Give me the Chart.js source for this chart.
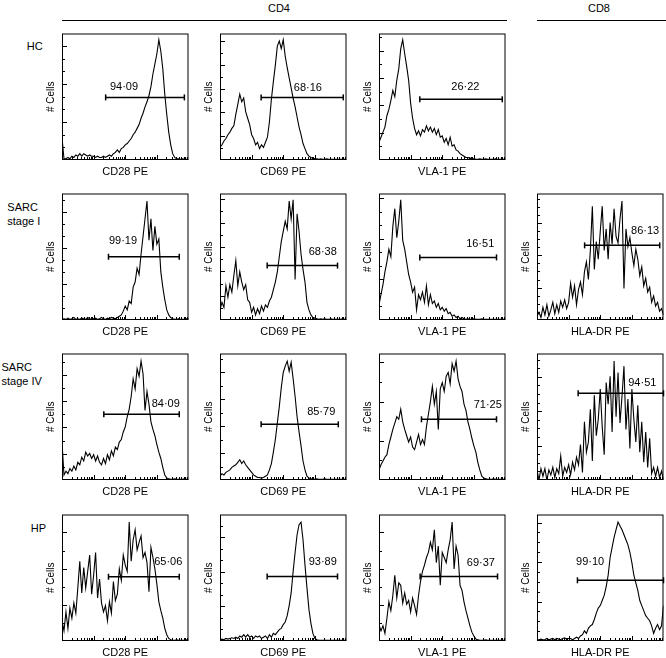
<!DOCTYPE html>
<html><head><meta charset="utf-8">
<script src="https://cdn.jsdelivr.net/npm/chart.js@4.4.1/dist/chart.umd.min.js"></script>
<style>
html,body{margin:0;padding:0;background:#fff;}
#fig{position:relative;width:666px;height:658px;overflow:hidden;background:#fff;font-family:"Liberation Sans",Arial,Helvetica,sans-serif;color:#000;}
.lbl{position:absolute;font-size:11px;line-height:14px;white-space:nowrap;}
.hdr{position:absolute;font-size:11px;line-height:14px;text-align:center;width:60px;}
.rule{position:absolute;height:1px;background:#000;}
canvas{position:absolute;}
</style></head><body>
<div id="fig">
  <div class="hdr" style="left:249px;top:0.6px">CD4</div>
  <div class="rule" style="left:62px;top:20px;width:445px"></div>
  <div class="hdr" style="left:569px;top:0.6px">CD8</div>
  <div class="rule" style="left:537px;top:20px;width:129px"></div>
  <div class="lbl" style="left:26.7px;top:38.9px">HC</div>
  <div class="lbl" style="left:7.3px;top:199.8px">SARC<br>stage I</div>
  <div class="lbl" style="left:1.5px;top:359.8px">SARC<br>stage IV</div>
  <div class="lbl" style="left:30.7px;top:520.6px">HP</div>
</div>
<script>
// ---------- data (histogram heights, % of panel height, 65 channels spanning 10^0..10^4) ----------
const markers = ['CD28 PE', 'CD69 PE', 'VLA-1 PE', 'HLA-DR PE'];
const yAxisTitle = '# Cells';

const hcCD28 = [18,1,1,2,1,3,2,4,3,5, 3,5,4,3,4,3,3,2,3,2, 2,3,2,3,4,3,5,6,8,6, 9,10,12,13,15,17,20,22,25,28, 33,37,42,46,51,58,68,76,84,95, 86,72,52,36,22,12,5,2,1,1, 0.5,1,0.5,0.5,0.5];
const hcCD69 = [10,12,15,17,20,22,25,27,36,44, 52,46,49,38,33,28,20,17,12,14, 9,12,10,14,18,30,48,62,75,90, 94,88,95,82,73,65,57,49,42,34, 26,20,13,9,5,3,2,1.5,1,1, 0.5,1,0.5,0.5,1,0.5,0.5,0.5,0.5,0.5, 0.5,0.5,0.5,0.5,0.5];
const hcVLA1 = [14,18,22,26,35,40,47,55,50,63, 72,88,95,84,74,63,45,33,25,20, 23,19,24,22,27,23,26,22,25,20, 24,18,19,14,17,12,18,11,12,8, 7,5,4,3,2,2,1.5,1,1,0.5, 0.5,1,0.5,0.5,1,0.5,0.5,0.5,0.5,1, 0.5,0.5,0.5,0.5,0.5];

const s1CD28 = [0.5,1,0.5,1.5,0.5,1,2,0.5,1,0.5, 1.5,1,0.5,2,1,0.5,1,1.5,0.5,1, 2,1,0.5,1.5,1,2,1.5,1,2,3, 4,7,11,8,15,13,26,30,41,36, 52,66,80,94,63,80,55,74,60,64, 38,26,16,8,4,2,1,0.5,0.5,1, 0.5,0.5,0.5,1,0.5];
const s1CD69 = [8,14,10,27,18,28,22,35,47,27, 38,30,24,28,16,14,6,10,4,9, 5,11,7,12,10,15,18,24,30,38, 50,62,70,78,72,94,80,95,32,84, 70,52,40,30,14,8,4,2,1.5,1, 0.5,1,0.5,1,0.5,0.5,1,0.5,0.5,0.5, 0.5,0.5,1,0.5,0.5];
const s1VLA1 = [12,20,28,38,46,56,50,74,88,65, 78,95,63,56,46,36,30,22,26,8, 20,16,22,14,27,12,20,13,15,10, 13,8,10,7,9,5,6,3,4,2, 3,1,2,1,0.5,1,0.5,0.5,1,0.5, 0.5,0.5,1,0.5,0.5,0.5,0.5,0.5,0.5,0.5, 0.5,0.5,0.5,0.5,0.5];
const s1HLADR = [3,6,2,10,4,12,3,8,14,5, 12,6,15,10,16,9,14,29,18,27, 12,24,30,20,38,46,32,55,90,40, 62,48,70,90,55,72,48,77,60,88, 66,61,80,94,25,72,58,65,53,43, 56,48,35,42,27,33,22,26,14,19, 11,14,7,9,4];

const s4CD28 = [30,4,7,5,9,7,11,8,14,12, 18,15,22,19,21,17,20,15,19,14, 12,17,13,20,16,23,19,26,24,30, 32,38,42,50,56,66,80,72,88,82, 94,84,55,70,60,46,40,35,28,22, 17,10,4,1.5,1,0.5,0.5,1,0.5,0.5, 0.5,0.5,1,0.5,0.5];
const s4CD69 = [3,5,4,6,7,8,10,11,12,14, 16,13,15,12,10,8,6,4,3,2, 2,1.5,2,3,4,8,13,22,32,45, 58,73,85,90,94,86,93,80,66,50, 38,27,15,8,3,1.5,1,0.5,0.5,1, 0.5,0.5,0.5,1,0.5,0.5,0.5,0.5,0.5,0.5, 0.5,0.5,0.5,0.5,0.5];
const s4VLA1 = [8,12,15,18,20,28,34,40,45,50, 48,56,46,40,35,30,34,26,24,30, 36,28,32,28,42,52,62,74,60,70, 40,72,77,70,82,85,76,92,86,94, 80,74,70,60,55,46,40,33,27,22, 14,8,3,1.5,1,0.5,0.5,0.5,1,0.5, 0.5,0.5,0.5,0.5,0.5];
const s4HLADR = [8,0,9,3,9,0,8,4,10,2, 9,5,19,3,10,6,12,4,14,8, 18,12,28,6,46,22,30,56,15,67, 35,48,72,42,20,77,60,82,38,94, 50,85,45,66,90,40,64,25,72,48, 30,59,22,46,14,38,10,33,5,10, 3,10,2,7,0];

const hpCD28 = [16,8,23,10,26,18,30,22,42,63, 38,58,42,55,68,37,52,70,34,49, 30,23,28,16,31,22,47,32,37,57, 48,68,60,55,94,63,80,88,72,78, 83,66,70,62,39,74,66,57,45,31, 24,18,10,5,2,1,0.5,0.5,1,0.5, 0.5,0.5,0.5,1,0.5];
const hpCD69 = [1,1.5,1,2,1.5,2,2.5,2,3,2, 4,3,5,3,5,3,4,2,4,3, 4,2,3,4,2,5,3,6,5,7, 9,10,13,15,20,28,38,55,70,84, 92,94,80,60,42,25,14,6,2,1, 0.5,0.5,0.5,0.5,0.5,0.5,0.5,0.5,0.5,0.5, 0.5,0.5,0.5,0.5,0.5];
const hpVLA1 = [13,8,12,6,18,31,24,36,52,34, 46,44,30,38,29,32,23,34,28,21, 36,47,55,60,66,70,78,72,88,62, 75,44,70,66,62,72,80,94,57,75, 68,44,40,31,24,18,12,7,4,1.5, 1,0.5,0.5,0.5,1,0.5,0.5,0.5,0.5,0.5, 0.5,0.5,0.5,0.5,0.5];
const hpHLADR = [1,1,1.5,1,1,2,1,1.5,2,1, 2,1.5,1,2,2.5,1.5,2,2,1,2, 3,2,4,5,8,6,10,12,13,17, 22,26,28,32,36,43,52,66,74,82, 88,94,91,88,84,80,76,70,62,52, 46,40,32,28,24,20,18,16,12,6, 10,13,9,12,28];

// gate bounds (fluorescence intensity) and gated percentages, panel order row by row
const gateLow  = [24, 20, 19.5, 29.5, 31, 19.5, 32, 21, 20, 22, 20, 29.5, 31, 20, 19];
const gateHigh = [7400, 7900, 7900, 5100, 5200, 5200, 7600, 5100, 5500, 5200, 10000, 5100, 5200, 5600, 10000];
const gatePercent = [94.09, 68.16, 26.22, 99.19, 68.38, 16.51, 86.13, 84.09, 85.79, 71.25, 94.51, 65.06, 93.89, 69.37, 99.10];

// ---------- layout / style ----------
const panelRow = [0,0,0, 1,1,1,1, 2,2,2,2, 3,3,3,3];
const panelCol = [0,1,2, 0,1,2,3, 0,1,2,3, 0,1,2,3];
const panelSeries = [hcCD28, hcCD69, hcVLA1, s1CD28, s1CD69, s1VLA1, s1HLADR, s4CD28, s4CD69, s4VLA1, s4HLADR, hpCD28, hpCD69, hpVLA1, hpHLADR];
const gateLevel = [49.5, 49.5, 48, 50, 43, 49.5, 59, 52, 44, 48, 68.5, 50.8, 51, 51, 48];
const labelDecade = [1.96, 2.78, 2.73, 1.93, 3.25, 3.2, 3.42, 3.28, 3.2, 3.44, 3.33, 3.36, 3.25, 3.22, 1.68];
const labelLevel = [58.6, 57.8, 58.6, 63, 54.7, 61, 71, 60.7, 54.7, 60, 77.6, 63, 63, 62.5, 63];
const yTickStep = [10, 9.4, 10.8, 9.5, 9.6, 10.7, 6.4, 10.4, 10.65, 15.5, 6.8, 14.3, 9.1, 14.3, 7.8];
const yTickMajorEvery = [3, 2, 2, 3, 2, 3, 4, 2, 2, 2, 4, 2, 3, 2, 4];
const tickMultipliers = [1,2,3,4,5,6,7,8,9];
const decades = [1,10,100,1000];
const colLeft = [62, 220, 379, 537];
const rowTop = [32, 192, 352, 513];
const plotW = 128, plotH = 128;
const padL = 24, padT = 4, padR = 4, padB = 20;
const FONT = '"Liberation Sans", Arial, Helvetica, sans-serif';

const frameTicks = {
  id: 'frameTicks',
  afterDatasetsDraw(chart, args, opts) {
    const {ctx, chartArea: a, scales: {x, y}} = chart;
    ctx.save();
    ctx.strokeStyle = '#000';
    ctx.lineWidth = 1;
    ctx.strokeRect(a.left + 0.5, a.top + 0.5, a.right - a.left - 1, a.bottom - a.top - 1);
    ctx.beginPath();
    for (const dec of decades) {
      for (const m of tickMultipliers) {
        const v = m * dec;
        if (v <= 1 || v >= 10000) continue;
        const px = Math.round(x.getPixelForValue(v)) + 0.5;
        const len = m === 1 ? 4 : 2;
        ctx.moveTo(px, a.bottom - 1);
        ctx.lineTo(px, a.bottom - 1 - len);
      }
    }
    for (let k = 1; k * opts.step < 99; k++) {
      const py = Math.round(y.getPixelForValue(k * opts.step)) + 0.5;
      const len = (k % opts.major === 0) ? 4 : 2;
      ctx.moveTo(a.left + 1, py);
      ctx.lineTo(a.left + 1 + len, py);
    }
    ctx.stroke();
    ctx.restore();
  }
};

const gateLabel = {
  id: 'gateLabel',
  afterDatasetsDraw(chart, args, opts) {
    const {ctx, scales: {x, y}} = chart;
    ctx.save();
    ctx.fillStyle = '#000';
    ctx.font = '11px ' + FONT;
    ctx.textAlign = 'center';
    ctx.textBaseline = 'alphabetic';
    ctx.fillText(opts.text, x.getPixelForValue(opts.x), y.getPixelForValue(opts.y) + 4);
    ctx.restore();
  }
};

const fig = document.getElementById('fig');
panelSeries.forEach((series, p) => {
  const r = panelRow[p], c = panelCol[p];
  const cv = document.createElement('canvas');
  const W = padL + plotW + padR, H = padT + plotH + padB;
  cv.width = W; cv.height = H;
  cv.style.left = (colLeft[c] - padL) + 'px';
  cv.style.top = (rowTop[r] - padT) + 'px';
  cv.style.width = W + 'px'; cv.style.height = H + 'px';
  fig.appendChild(cv);
  const n = series.length;
  const pts = series.map((v, i) => ({x: Math.pow(10, 4 * i / (n - 1)), y: v}));
  new Chart(cv, {
    type: 'line',
    data: {
      datasets: [
        {data: [{x: gateLow[p], y: gateLevel[p]}, {x: gateHigh[p], y: gateLevel[p]}],
         borderColor: '#000', borderWidth: 1.5, pointStyle: 'line', pointRotation: 90,
         pointRadius: 3, pointBorderWidth: 1.5, pointBorderColor: '#000', pointBackgroundColor: '#000',
         clip: false, order: 0},
        {data: pts, borderColor: '#000', borderWidth: 1.1, pointRadius: 0, tension: 0, order: 1}
      ]
    },
    options: {
      responsive: false, animation: false, devicePixelRatio: 1,
      events: [],
      layout: {padding: {left: 0, top: padT, right: padR, bottom: 0}},
      plugins: {
        legend: {display: false}, tooltip: {enabled: false},
        frameTicks: {step: yTickStep[p], major: yTickMajorEvery[p]},
        gateLabel: {text: gatePercent[p].toFixed(2).replace('.', '\u00B7'), x: Math.pow(10, labelDecade[p]), y: labelLevel[p]}
      },
      scales: {
        x: {type: 'logarithmic', min: 1, max: 10000,
            ticks: {display: false}, grid: {display: false}, border: {display: false},
            title: {display: true, text: markers[c], color: '#000', font: {family: FONT, size: 11}, padding: {top: 0, bottom: 1.7}},
            afterFit(s) { s.height = padB; }},
        y: {type: 'linear', min: 0, max: 100,
            ticks: {display: false}, grid: {display: false}, border: {display: false},
            title: {display: true, text: yAxisTitle, color: '#000', font: {family: FONT, size: 10}, padding: {top: 7.7, bottom: 0}},
            afterFit(s) { s.width = padL; }}
      }
    },
    plugins: [frameTicks, gateLabel]
  });
});
</script>
</body></html>
